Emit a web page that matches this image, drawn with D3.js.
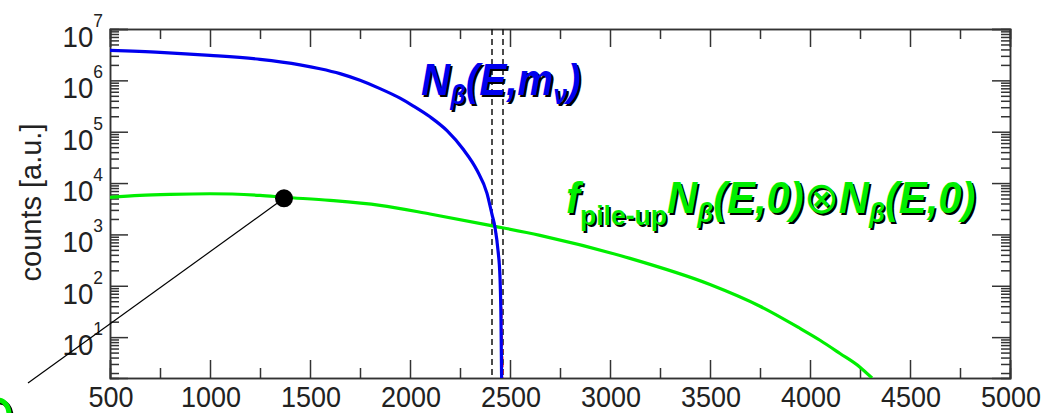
<!DOCTYPE html>
<html>
<head>
<meta charset="utf-8">
<script src="https://cdn.jsdelivr.net/npm/d3@7"></script>
<style>
  body { margin: 0; background: #fff; }
  svg { display: block; }
  .axis path, .axis line { stroke: #333; stroke-width: 1.5; }
  text { font-family: "Liberation Sans", Arial, sans-serif; }
</style>
</head>
<body>
<div id="chart"></div>
<script>
// spectrum with finite neutrino mass (blue)
var blueE      = [500, 750, 1000, 1250, 1450, 1550, 1650, 1750, 1850, 1950, 2015, 2100, 2185, 2265, 2335, 2385, 2410, 2425, 2440, 2450, 2455, 2458];
var blueCounts = [3.84e6, 3.51e6, 3.07e6, 2.56e6, 2.0e6, 1.68e6, 1.35e6, 1.0e6, 6.9e5, 4.5e5, 3.2e5, 1.95e5, 1.05e5, 4.6e4, 1.77e4, 6.3e3, 2.45e3, 1.37e3, 490, 145, 21, 1.6];
// massless spectrum near the endpoint (red dashed)
var redE      = [2420, 2440, 2452, 2460, 2465];
var redCounts = [1.6e3, 600, 150, 20, 1.6];
// pile-up spectrum (green)
var greenE      = [500, 650, 800, 1000, 1250, 1370, 1600, 1850, 2100, 2400, 2650, 3100, 3500, 3750, 3950, 4050, 4150, 4250, 4310];
var greenCounts = [5270, 5750, 6020, 6200, 5750, 5300, 4600, 3680, 2500, 1500, 960, 342, 106, 40, 14.8, 8.7, 4.8, 2.6, 1.6];

var xTicks = [500, 1000, 1500, 2000, 2500, 3000, 3500, 4000, 4500, 5000];
var xMinor = [750, 1250, 1750, 2250, 2750, 3250, 3750, 4250, 4750];
var yExp   = [1, 2, 3, 4, 5, 6, 7];
var roiE   = [2410, 2465];            // dashed vertical lines
var dotPt  = [1370, 5040];            // marked point on the pile-up curve
var pointerEnd = [90, 1.28];          // end of the pointer line (outside the frame)

var W = 1049, H = 413;
var margin = {top: 29, right: 39, bottom: 35, left: 110};
var width = W - margin.left - margin.right,
    height = H - margin.top - margin.bottom;

var svg = d3.select("#chart").append("svg")
    .attr("width", W)
    .attr("height", H);

var x = d3.scaleLinear().domain([500, 5000]).range([margin.left, margin.left + width]);
var y = d3.scaleLog().domain([1.6, 1e7]).range([margin.top + height, margin.top]);

svg.append("clipPath").attr("id", "clip")
  .append("rect")
    .attr("x", margin.left).attr("y", margin.top)
    .attr("width", width).attr("height", height);

var yMinor = [];
for (var n = 0; n <= 6; n++) {
    for (var k = 2; k <= 9; k++) {
        var v = k * Math.pow(10, n);
        if (v >= 1.6 && v <= 1e7) yMinor.push(v);
    }
}

// axes: ticks point inward on all four sides
function frame(axisFn, scale, vals, size, tr) {
    svg.append("g")
        .attr("class", "axis")
        .attr("transform", tr)
        .call(axisFn(scale).tickValues(vals).tickSize(-size).tickFormat(""));
}
var B = "translate(0," + (margin.top + height) + ")",
    T = "translate(0," + margin.top + ")",
    L = "translate(" + margin.left + ",0)",
    R = "translate(" + (margin.left + width) + ",0)";
var yMajor = yExp.map(function (e) { return Math.pow(10, e); });

frame(d3.axisBottom, x, xMinor, 10, B);
frame(d3.axisTop, x, xMinor, 10, T);
frame(d3.axisLeft, y, yMinor, 9, L);
frame(d3.axisRight, y, yMinor, 9, R);
frame(d3.axisBottom, x, xTicks, 18, B);
frame(d3.axisTop, x, xTicks, 18, T);
frame(d3.axisLeft, y, yMajor, 18, L);
frame(d3.axisRight, y, yMajor, 18, R);

// x tick labels
svg.append("g").selectAll("text")
    .data(xTicks)
    .enter().append("text")
    .attr("transform", function (d) { return "translate(" + (x(d) + 1) + "," + (margin.top + height + 29) + ") scale(0.9,1)"; })
    .attr("text-anchor", "middle")
    .style("font-size", "30px")
    .style("fill", "#222")
    .text(function (d) { return d; });

// y tick labels 10^n
var yl = svg.append("g").selectAll("text")
    .data(yExp)
    .enter().append("text")
    .attr("transform", function (d) { return "translate(103," + (y(Math.pow(10, d)) + 18) + ") scale(0.92,1)"; })
    .attr("text-anchor", "end")
    .style("fill", "#222");
yl.append("tspan").style("font-size", "30px").text("10");
yl.append("tspan").style("font-size", "19px").attr("dy", -20).text(function (d) { return d; });

svg.append("text")
    .attr("transform", "translate(41," + (margin.top + height / 2 - 1) + ") rotate(-90)")
    .attr("text-anchor", "middle")
    .style("font-size", "29px")
    .style("fill", "#222")
    .text("counts [a.u.]");

var plot = svg.append("g").attr("clip-path", "url(#clip)");

// dashed region lines
plot.selectAll(".roi")
    .data(roiE)
    .enter().append("line")
    .attr("class", "roi")
    .attr("x1", function (d) { return x(d); })
    .attr("x2", function (d) { return x(d); })
    .attr("y1", margin.top)
    .attr("y2", margin.top + height)
    .style("stroke", "#111")
    .style("stroke-width", 1.5)
    .style("stroke-dasharray", "6,4");

var line = d3.line()
    .x(function (d) { return x(d[0]); })
    .y(function (d) { return y(d[1]); })
    .curve(d3.curveMonotoneX);

plot.append("path")
    .datum(greenE.map(function (e, i) { return [e, greenCounts[i]]; }))
    .attr("d", line)
    .style("fill", "none")
    .style("stroke", "#00ee00")
    .style("stroke-width", 3.2);

plot.append("path")
    .datum(redE.map(function (e, i) { return [e, redCounts[i]]; }))
    .attr("d", line)
    .style("fill", "none")
    .style("stroke", "#ff2020")
    .style("stroke-width", 1.5)
    .style("stroke-dasharray", "4,3");

plot.append("path")
    .datum(blueE.map(function (e, i) { return [e, blueCounts[i]]; }))
    .attr("d", line)
    .style("fill", "none")
    .style("stroke", "#0000ee")
    .style("stroke-width", 3.2);

// pointer line and marked dot
svg.append("line")
    .attr("x1", x(dotPt[0])).attr("y1", y(dotPt[1]))
    .attr("x2", x(pointerEnd[0])).attr("y2", y(pointerEnd[1]))
    .style("stroke", "#000")
    .style("stroke-width", 1.2);

svg.append("circle")
    .attr("cx", x(dotPt[0])).attr("cy", y(dotPt[1]))
    .attr("r", 9)
    .style("fill", "#000");

// formula labels with a dark drop shadow
function label(px, py, size, sx, color, parts) {
    [["#000", 1.8], [color, 0]].forEach(function (s) {
        var t = svg.append("text")
            .attr("transform", "translate(" + (px + s[1]) + "," + (py + s[1]) + ") scale(" + sx + ",1)")
            .style("font-size", size + "px")
            .style("font-weight", "bold")
            .style("fill", s[0]);
        parts.forEach(function (p) {
            t.append("tspan")
                .attr("dy", p.dy || 0)
                .style("font-size", (p.size || size) + "px")
                .style("font-style", p.it === false ? "normal" : "italic")
                .style("font-weight", p.w || "bold")
                .text(p.t);
        });
    });
}

label(421, 95, 44, 0.92, "#0000ee", [
    {t: "N"}, {t: "β", size: 27, dy: 9}, {t: "(E,m", dy: -9}, {t: "ν", size: 27, dy: 9}, {t: ")", dy: -9}
]);

label(566, 213, 44, 0.95, "#00ee00", [
    {t: "f"}, {t: "pile-up", size: 28, dy: 12, it: false}, {t: "N", dy: -12}, {t: "β", size: 27, dy: 9},
    {t: "(E,0)", dy: -9}, {t: "⊗", it: false, w: "normal"}, {t: "N"}, {t: "β", size: 27, dy: 9}, {t: "(E,0)", dy: -9}
]);

// ring fragment of an annotation cut off at the lower left corner
[["#000", 2], ["#00ee00", 0]].forEach(function (s) {
    svg.append("ellipse")
        .attr("cx", -2 + s[1]).attr("cy", 414 + s[1])
        .attr("rx", 11).attr("ry", 14)
        .style("fill", "none")
        .style("stroke", s[0])
        .style("stroke-width", 5);
});
</script>
</body>
</html>
